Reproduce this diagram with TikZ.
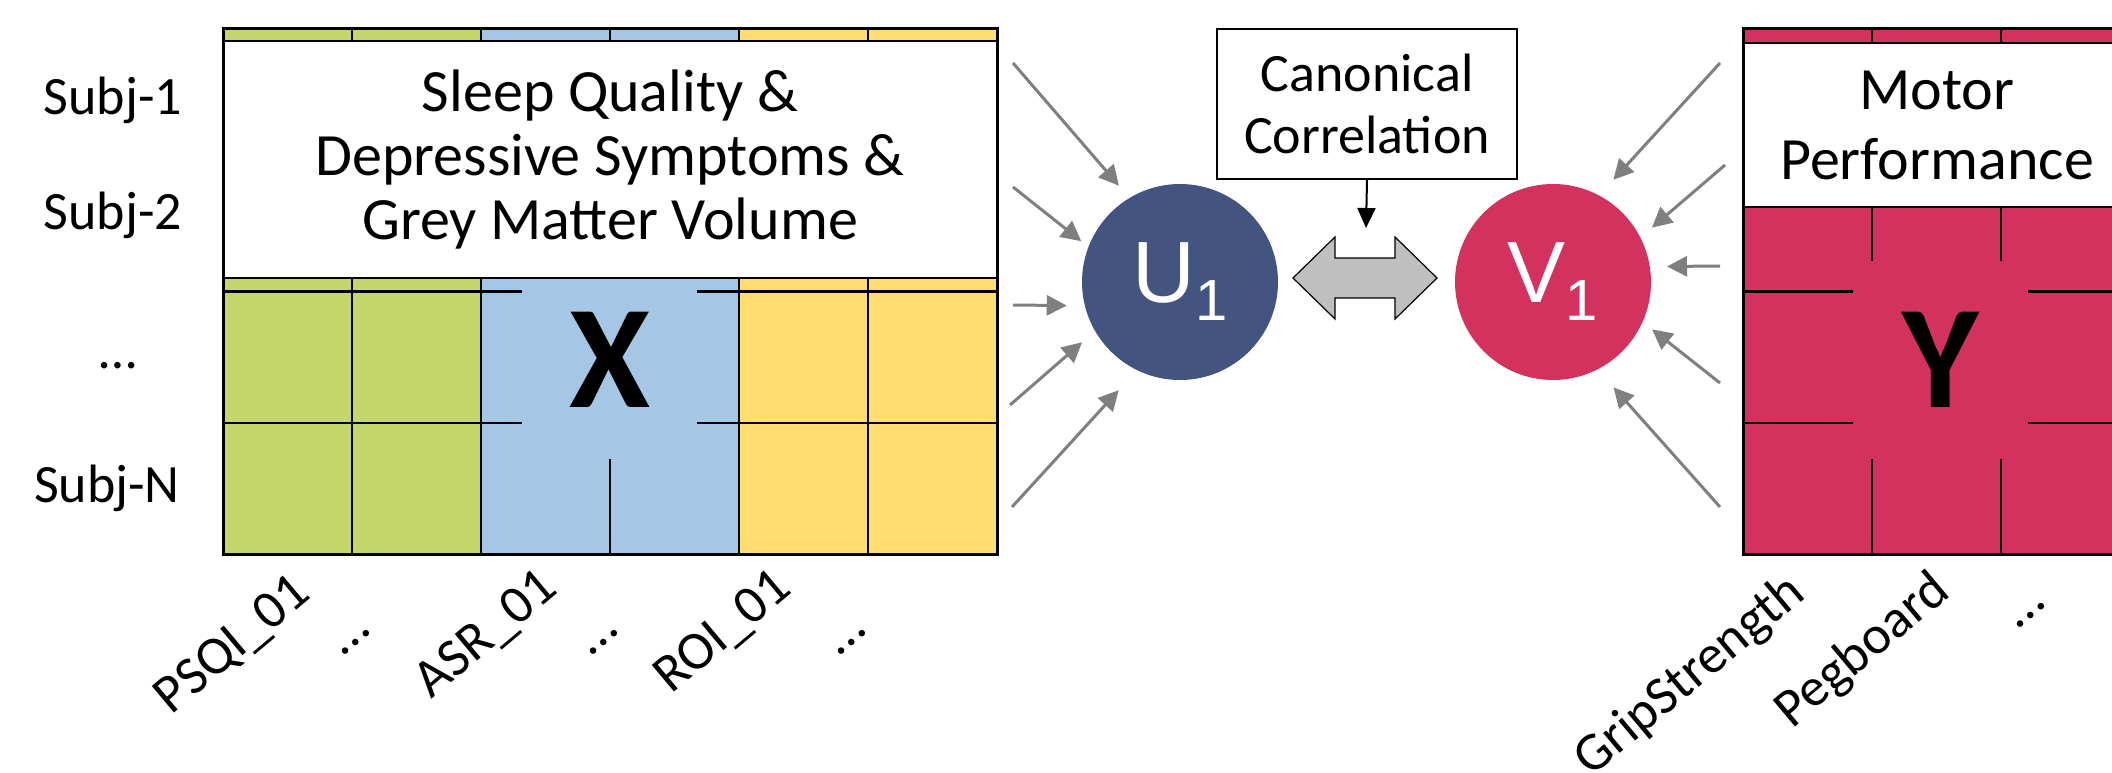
\documentclass[tikz,border=0pt]{standalone}
\usepackage{fontspec}
\setmainfont{Carlito}
\newfontfamily\arialfont{Liberation Sans}
\usetikzlibrary{arrows.meta,calc}

\definecolor{sqgreen}{HTML}{C4D66C}
\definecolor{sqblue}{HTML}{A5C7E5}
\definecolor{sqyellow}{HTML}{FFDD71}
\definecolor{motorred}{HTML}{D3325F}
\definecolor{unavy}{HTML}{42547F}
\definecolor{feedgray}{HTML}{7F7F7F}
\definecolor{linkgray}{HTML}{BFBFBF}

\newcommand{\cvsub}[1]{\raisebox{-18pt}{\fontsize{58}{60}\selectfont #1}}

\begin{document}
\begin{tikzpicture}[x=1pt, y=-1pt,
		gridline/.style={line width=2.5pt},
		frameline/.style={line width=3pt},
		titlebox/.style={draw, line width=2pt, fill=white, align=center, inner sep=0pt, font=\fontsize{60}{70}\selectfont},
		rowlabel/.style={anchor=base, font=\fontsize{54}{60}\selectfont},
		varlabel/.style={anchor=base east, rotate=40, inner sep=0pt, font=\fontsize{54}{60}\selectfont},
		bigletter/.style={minimum width=175pt, minimum height=198pt, inner sep=0pt, font=\fontsize{147}{150}\selectfont\bfseries},
		cvar/.style={circle, minimum size=196pt, inner sep=0pt, text=white, font=\arialfont\fontsize{87}{90}\selectfont},
		feed/.style={feedgray, line width=3pt, -{Triangle[length=20pt,width=20pt]}}]
				\useasboundingbox (0,0) rectangle (2112,773);
				
				% X block
				\foreach \c/\col in {0/sqgreen, 1/sqgreen, 2/sqblue, 3/sqblue, 4/sqyellow, 5/sqyellow}
					\fill[\col] (223+\c*129, 29) rectangle (352+\c*129, 554);
				\foreach \c in {1,...,5}
					\draw[gridline] (223+\c*129, 29) -- (223+\c*129, 554);
				\foreach \r in {1,2,3}
					\draw[gridline] (223, 29+\r*131.25) -- (997, 29+\r*131.25);
				\node[bigletter, fill=sqblue] (xmat) at (609.5, 360) {X};
				\node[titlebox, minimum width=774pt, minimum height=237pt, font=\fontsize{60}{64}\selectfont] (xtitle) at (610, 159.5)
					{Sleep Quality \&\\Depressive Symptoms \&\\Grey Matter Volume};
				\draw[frameline] (223, 29) rectangle (997, 554);
				
				% Y block
				\fill[motorred] (1743, 29) rectangle (2130, 554);
				\foreach \c in {1,2}
					\draw[gridline] (1743+\c*129, 29) -- (1743+\c*129, 554);
				\foreach \r in {1,2,3}
					\draw[gridline] (1743, 29+\r*131.25) -- (2130, 29+\r*131.25);
				\node[bigletter, fill=motorred] (ymat) at (1940.5, 360) {Y};
				\node[titlebox, minimum width=388pt, minimum height=164pt] (ytitle) at (1937, 125)
					{Motor\\Performance};
				\draw[frameline] (1743, 29) rectangle (2130, 554);
				
				% subjects
				\node[rowlabel] (subj1) at (113, 115) {Subj-1};
				\node[rowlabel] (subj2) at (113, 229) {Subj-2};
				\node[rowlabel] (subjdots) at (118, 368) {\ldots};
				\node[rowlabel] (subjn) at (107, 502) {Subj-N};
				
				% variables
				\node[varlabel] (psqi) at (313, 597) {PSQI\_01};
				\node[varlabel] (psqidots) at (372, 632) {\ldots};
				\node[varlabel] (asr) at (560, 592) {ASR\_01};
				\node[varlabel] (asrdots) at (620, 632) {\ldots};
				\node[varlabel] (roi) at (794, 592) {ROI\_01};
				\node[varlabel] (roidots) at (868, 632) {\ldots};
				\node[varlabel] (grip) at (1807, 597) {GripStrength};
				\node[varlabel] (peg) at (1952, 595) {Pegboard};
				\node[varlabel] (motordots) at (2047, 605) {\ldots};
				
				% canonical variates
				\node[cvar, fill=unavy] (U1) at (1180, 282) {U\cvsub{1}};
				\node[cvar, fill=motorred] (V1) at (1553, 282) {V\cvsub{1}};
				
				\foreach \n/\sx/\sy/\a/\s in {1/1013/63/121/16, 2/1013/187/159/9, 3/1013/305/194/18, 4/1010/405/210/17, 5/1012/507/244/27}{
					\coordinate (u\n) at (\sx, \sy);
					\draw[feed, shorten >=\s pt] (u\n) -- (U1.\a);
				}
				\foreach \n/\sx/\sy/\a/\s in {1/1720/63/62/21, 2/1725/165/27/15, 3/1720/266/9/17, 4/1720/383/336/12, 5/1720/507/297/24}{
					\coordinate (v\n) at (\sx, \sy);
					\draw[feed, shorten >=\s pt] (v\n) -- (V1.\a);
				}
				
				% correlation
				\coordinate (link) at (1365, 278);
				\draw[line width=1.2pt, fill=linkgray] (link) ++(-72,0) -- ++(42,-41) -- ++(0,21) -- ++(60,0) -- ++(0,-21)
					-- ++(42,41) -- ++(-42,41) -- ++(0,-21) -- ++(-60,0) -- ++(0,21) -- cycle;
				\node[draw, line width=2pt, fill=white, minimum width=300pt, minimum height=150pt, align=center,
					font=\fontsize{54}{62}\selectfont] (cca) at (1367, 104) {Canonical\\Correlation};
				\draw[line width=2pt, -{Triangle[length=20pt,width=18pt]}, shorten >=50pt] (cca.south) -- (link);
					
			\end{tikzpicture}
\end{document}
